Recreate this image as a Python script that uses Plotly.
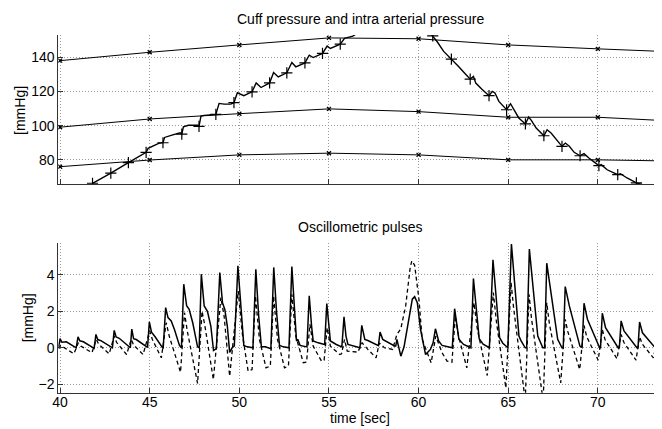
import plotly.graph_objects as go

# ---------------- Top panel data ----------------
ref_t = [40, 45, 50, 55, 60, 65, 70, 73.6]
sys_v = [138.0, 142.9, 147.2, 151.3, 150.8, 147.2, 144.9, 143.4]
mean_v = [99.1, 103.9, 107.0, 109.8, 108.2, 104.9, 104.9, 103.0]
dia_v = [76.0, 79.9, 82.9, 83.9, 82.9, 80.0, 80.0, 79.4]

cuff_up_t = [41.81, 42.83, 43.81, 44.80, 44.91, 45.5, 45.74, 45.83, 46.24, 46.7, 46.79,
             46.88, 47.16, 47.67, 47.75, 47.86, 48.04, 48.41, 48.69, 48.87, 49.15, 49.52,
             49.7, 49.89, 50.25, 50.71, 50.94, 51.21, 51.69, 51.91, 52.17, 52.65, 52.93,
             53.15, 53.66, 53.9, 54.12, 54.64, 54.9, 55.08, 55.63, 55.87, 56.15, 56.33, 56.5]
cuff_up_v = [66.3, 72.2, 78.4, 84.4, 86.7, 89.6, 90.0, 93.1, 94.5, 95.8, 95.0,
             99.3, 100.2, 100.2, 99.6, 105.6, 106.0, 106.2, 106.6, 113.0, 112.6, 112.6,
             113.4, 119.2, 117.5, 119.8, 125.0, 122.3, 125.0, 131.1, 128.5, 130.9, 136.9,
             134.4, 136.7, 141.2, 139.8, 142.2, 146.5, 145.1, 147.7, 151.0, 151.6, 152.3, 153.5]
cuff_dn_t = [60.7, 60.79, 61.03, 61.4, 61.83, 61.95, 62.23, 62.6, 62.88, 63.06, 63.19,
             63.52, 63.93, 64.11, 64.26, 64.48, 64.91, 65.13, 65.27, 65.59, 65.96, 66.14,
             66.29, 66.56, 66.99, 67.17, 67.39, 67.67, 68.0, 68.19, 68.41, 68.68, 69.01,
             69.23, 69.5, 70.06, 70.19, 70.52, 71.11, 71.26, 71.63, 72.15, 72.37, 72.55]
cuff_dn_v = [153.5, 152.5, 149.2, 143.4, 138.9, 138.1, 134.6, 130.3, 127.2, 128.8, 124.9,
             121.4, 117.5, 120.0, 119.1, 114.2, 109.3, 112.8, 110.3, 104.5, 101.0, 105.0,
             103.1, 98.6, 94.1, 97.6, 95.7, 91.8, 87.9, 89.8, 87.9, 84.4, 82.4,
             83.6, 81.1, 76.6, 77.2, 74.2, 71.3, 71.9, 69.4, 66.5, 66.1, 65.3]
beat_t = [41.81, 42.83, 43.81, 44.80, 45.74, 46.79, 47.75, 48.69, 49.7, 50.71, 51.69,
          52.65, 53.66, 54.64, 55.63,
          60.79, 61.83, 62.88, 63.93, 64.91, 65.96, 66.99, 68.0, 69.01, 70.06, 71.11, 72.15]
beat_v = [66.3, 72.2, 78.4, 84.4, 90.0, 95.0, 99.6, 106.6, 113.4, 119.8, 125.0,
          130.9, 136.7, 142.2, 147.7,
          152.5, 138.9, 127.2, 117.5, 109.3, 101.0, 94.1, 87.9, 82.4, 76.6, 71.3, 66.5]

# ---------------- Bottom panel data ----------------
solid_t = [39.92, 40.0, 40.1, 40.35, 40.9,
           41.0, 41.1, 41.3, 41.9,
           42.0, 42.1, 42.3, 42.92,
           43.02, 43.12, 43.3, 43.92,
           44.0, 44.1, 44.25, 44.88,
           44.98, 45.1, 45.3, 45.75,
           45.89, 46.02, 46.2, 46.38, 46.66, 46.77,
           46.9, 47.06, 47.2, 47.4, 47.67, 47.76,
           47.88, 48.04, 48.22, 48.41, 48.56, 48.72,
           48.91, 49.06, 49.19, 49.33, 49.46, 49.6, 49.72,
           49.92, 50.07, 50.25, 50.44, 50.76,
           50.92, 51.08, 51.23, 51.45, 51.76,
           51.92, 52.08, 52.24, 52.46, 52.77,
           52.93, 53.08, 53.19, 53.26, 53.39, 53.77,
           53.9, 54.03, 54.12, 54.4, 54.76,
           54.88, 54.99, 55.08, 55.41, 55.72,
           55.84, 55.95, 56.06, 56.43, 56.73,
           56.83, 57.0, 57.17, 57.7, 57.76,
           57.85, 58.0, 58.68, 58.73,
           58.79, 59.01, 59.19, 59.47, 59.65,
           59.78, 59.93, 60.11, 60.39, 60.66, 60.81,
           60.94, 61.12, 61.31, 61.88,
           62.01, 62.25, 62.51, 62.92,
           63.06, 63.38, 63.6, 63.95,
           64.15, 64.52, 64.7, 64.98,
           65.18, 65.6, 65.72, 65.95, 66.03,
           66.18, 66.65, 66.93, 67.03,
           67.15, 67.76, 68.0, 68.07,
           68.18, 68.41, 69.0, 69.12,
           69.23, 69.42, 70.1, 70.15,
           70.25, 70.43, 71.13, 71.2,
           71.3, 71.46, 72.18, 72.24,
           72.33, 72.49, 73.2, 73.26,
           73.34, 73.53, 73.6]
solid_v = [0.05, 0.5, 0.3, 0.33, 0.0,
           0.6, 0.38, 0.33, -0.03,
           0.73, 0.45, 0.38, 0.0,
           0.95, 0.6, 0.52, 0.0,
           1.02, 0.5, 0.45, 0.02,
           1.42, 0.85, 0.6, -0.05,
           2.2, 1.65, 1.47, 1.0, 0.13, 0.0,
           3.48, 2.3, 2.1, 1.37, 0.05, 0.0,
           4.03, 2.29, 2.0, 1.19, -0.15, -0.05,
           4.12, 2.47, 2.1, 1.19, -0.25, 0.0, 0.1,
           4.49, 2.29, 0.13, 0.05, 0.0,
           4.3, 1.74, 0.05, 0.05, -0.05,
           4.4, 1.92, 0.13, 0.05, 0.0,
           4.45, 2.1, 0.37, 0.46, 0.13, 0.05,
           2.84, 1.19, 0.37, 0.27, 0.18,
           2.42, 1.0, 0.37, 0.18, 0.05,
           1.7, 0.64, 0.18, 0.09, 0.0,
           1.23, 0.46, 0.4, 0.13, 0.12,
           0.86, 0.46, 0.09, 0.1,
           0.46, -0.46, 0.05, 1.56, 2.66,
           2.8, 2.47, 1.0, -0.37, -0.09, 0.27,
           1.04, 0.37, 0.13, 0.0,
           2.14, 0.46, 0.18, 0.0,
           3.79, 0.5, 0.2, 0.0,
           4.82, 0.55, 0.25, 0.0,
           5.68, 0.64, 0.37, 0.0, 0.0,
           5.4, 0.64, 0.0, 0.0,
           4.63, 0.46, 0.0, 0.0,
           3.35, 2.29, 0.09, 0.02,
           2.44, 1.56, 0.0, 0.0,
           1.89, 1.1, 0.0, 0.0,
           1.47, 0.92, 0.0, 0.0,
           1.41, 0.82, 0.0, 0.0,
           1.23, 0.73, 0.65]

dashed_t = [39.93, 40.03, 40.77,
            41.02, 41.15, 41.78,
            42.02, 42.15, 42.74,
            43.02, 43.15, 43.71,
            43.97, 44.1, 44.63,
            45.0, 45.15, 45.65,
            45.92, 46.1, 46.72,
            46.94, 47.1, 47.67,
            47.92, 48.08, 48.55,
            48.97, 49.15, 49.46,
            49.94, 50.16, 50.49, 50.71,
            50.9, 51.12, 51.49, 51.73,
            51.91, 52.13, 52.52, 52.74,
            52.93, 53.15, 53.57, 53.75,
            53.94, 54.12, 54.58, 54.73,
            54.9, 55.08, 55.6, 55.7,
            55.87, 56.02, 56.61,
            56.85, 57.17, 57.63,
            57.81, 58.09, 58.55,
            58.79, 59.01, 59.28, 59.52,
            59.62, 59.78, 60.02, 60.2, 60.7,
            60.96, 61.31, 61.59, 61.86,
            62.05, 62.23, 62.69,
            63.09, 63.28, 63.83,
            64.17, 64.35, 64.87,
            65.16, 65.3, 65.95,
            66.16, 66.3, 66.95,
            67.15, 67.3, 67.93,
            68.18, 68.32, 68.99,
            69.23, 69.38, 70.02,
            70.25, 70.4, 71.07,
            71.3, 71.45, 72.13,
            72.33, 72.48, 73.1,
            73.34, 73.5, 73.6]
dashed_v = [-0.05, 0.13, -0.33,
            0.27, 0.1, -0.27,
            0.46, 0.2, -0.33,
            0.64, 0.3, -0.37,
            0.46, 0.15, -0.37,
            0.92, 0.45, -0.55,
            1.37, 0.6, -1.34,
            1.92, 0.9, -1.95,
            2.0, 1.2, -1.74,
            2.75, 1.74, -1.56,
            3.11, 0.82, -1.28, -1.19,
            2.84, 0.46, -1.1, -1.0,
            2.84, 0.46, -1.1, -1.0,
            2.93, 0.64, -0.82, -0.79,
            1.28, 0.09, -0.73, -0.68,
            1.1, 0.09, -0.37, -0.33,
            0.46, -0.18, -0.24,
            0.27, -0.09, -0.55,
            0.27, 0.0, -0.09,
            0.73, 1.04, 2.29, 4.3,
            4.76, 4.52, 2.66, 0.46, -0.82,
            0.64, -0.27, -0.73, -0.79,
            1.74, 0.64, -1.1,
            2.47, 1.0, -1.52,
            3.02, 1.37, -2.2,
            3.57, 2.2, -2.9,
            2.93, 1.6, -2.9,
            2.47, 1.3, -1.92,
            1.56, 0.9, -1.19,
            1.23, 0.6, -0.68,
            1.0, 0.45, -0.6,
            0.73, 0.3, -0.68,
            0.6, 0.2, -0.55,
            0.6, 0.3, 0.2]

top_yticks = [80, 100, 120, 140]
bot_yticks = [-2, 0, 2, 4]
x_ticks = [40, 45, 50, 55, 60, 65, 70]

# The page body has an 8px default margin: lay the figure out in window pixels minus 8.
OFF = 8
W, H = 662 - OFF, 429 - OFF


def px_x(p):
    return (p - OFF) / W


def px_y(p):
    return 1 - (p - OFF) / H


FONT = "Liberation Sans, Arial, Helvetica, sans-serif"
FS = 14
BLACK = "black"

fig = go.Figure()
for v in (sys_v, mean_v, dia_v):
    fig.add_trace(go.Scatter(x=ref_t, y=v, mode="lines", line=dict(color=BLACK, width=1),
                             xaxis="x", yaxis="y", hoverinfo="skip"))
    fig.add_trace(go.Scatter(x=ref_t[:-1], y=v[:-1], mode="markers",
                             marker=dict(symbol="x-thin", size=4, line=dict(color=BLACK, width=1.3)),
                             xaxis="x", yaxis="y", hoverinfo="skip"))
fig.add_trace(go.Scatter(x=cuff_up_t, y=cuff_up_v, mode="lines", line=dict(color=BLACK, width=1.4),
                         xaxis="x", yaxis="y"))
fig.add_trace(go.Scatter(x=cuff_dn_t, y=cuff_dn_v, mode="lines", line=dict(color=BLACK, width=1.4),
                         xaxis="x", yaxis="y"))
fig.add_trace(go.Scatter(x=beat_t, y=beat_v, mode="markers",
                         marker=dict(symbol="cross-thin", size=8, line=dict(color=BLACK, width=1.2)),
                         xaxis="x", yaxis="y"))

fig.add_trace(go.Scatter(x=dashed_t, y=dashed_v, mode="lines",
                         line=dict(color=BLACK, width=1.3, dash="4px,3px"),
                         xaxis="x2", yaxis="y2"))
fig.add_trace(go.Scatter(x=solid_t, y=solid_v, mode="lines", line=dict(color=BLACK, width=1.5),
                         xaxis="x2", yaxis="y2"))

xdom = [px_x(52.7), 1.0]
top_dom = [px_y(184.3), px_y(35)]
bot_dom = [px_y(392.7), px_y(243.3)]

common_axis = dict(showline=True, linecolor="#333", linewidth=1, ticks="inside", ticklen=5,
                   tickcolor="#333", showgrid=True, gridcolor="#999", griddash="1px,2px",
                   gridwidth=1, zeroline=False, mirror=False,
                   tickfont=dict(family=FONT, size=FS, color="black"))

ann_font = dict(family=FONT, size=FS, color="black")
fig.update_layout(
    width=W, height=H, margin=dict(l=0, r=0, t=0, b=0),
    paper_bgcolor="white", plot_bgcolor="white", showlegend=False,
    font=dict(family=FONT, size=FS, color="black"),
    xaxis=dict(domain=xdom, range=[39.9, 73.58], tickvals=x_ticks, showticklabels=False,
               anchor="y", **common_axis),
    yaxis=dict(domain=top_dom, range=[65.7, 153], tickvals=top_yticks, anchor="x", **common_axis),
    xaxis2=dict(domain=xdom, range=[39.9, 73.58], tickvals=x_ticks, anchor="y2",
                ticklabelstandoff=-4, **common_axis),
    yaxis2=dict(domain=bot_dom, range=[-2.46, 5.72], tickvals=bot_yticks, anchor="x2", **common_axis),
    annotations=[
        dict(text="Cuff pressure and intra arterial pressure", x=px_x(357.4), y=px_y(19),
             xref="paper", yref="paper", showarrow=False, xanchor="center", yanchor="middle",
             font=ann_font),
        dict(text="Oscillometric pulses", x=px_x(357.4), y=px_y(227),
             xref="paper", yref="paper", showarrow=False, xanchor="center", yanchor="middle",
             font=ann_font),
        dict(text="time [sec]", x=px_x(357.4), y=px_y(418),
             xref="paper", yref="paper", showarrow=False, xanchor="center", yanchor="middle",
             font=ann_font),
        dict(text="[mmHg]", x=px_x(14), y=px_y(110), textangle=-90,
             xref="paper", yref="paper", showarrow=False, xanchor="center", yanchor="middle",
             font=ann_font),
        dict(text="[mmHg]", x=px_x(22.5), y=px_y(318), textangle=-90,
             xref="paper", yref="paper", showarrow=False, xanchor="center", yanchor="middle",
             font=ann_font),
    ],
)

fig.write_html("out.html")
